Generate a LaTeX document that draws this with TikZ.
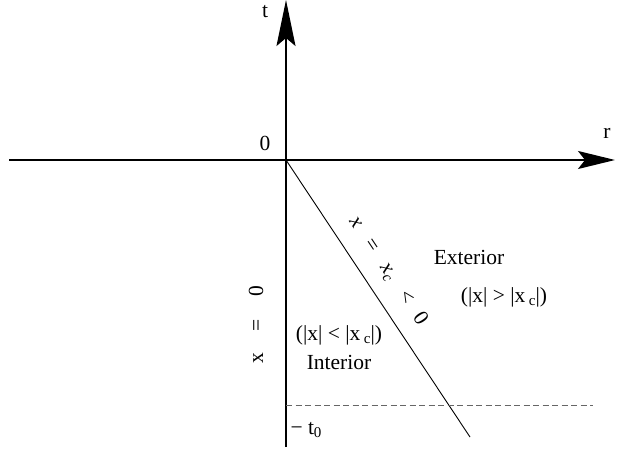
\documentclass[tikz,border=0pt]{standalone}
\usepackage{fontspec}
\setmainfont{Liberation Serif}
\usetikzlibrary{arrows.meta}
\newcommand{\lowsub}[1]{\raisebox{-0.35ex}{\fontsize{15}{15}\selectfont #1}}

\begin{document}
\begin{tikzpicture}[x=1pt, y=1pt,
  lbl/.style={inner sep=0pt, font=\fontsize{21.5}{24}\selectfont},
  axis/.style={line width=1.6pt},
  bound/.style={line width=0.9pt},
  tlevel/.style={dashed, dash pattern=on 6pt off 3.5pt, draw=black!60, line width=0.8pt}
]
\useasboundingbox (0,0) rectangle (618,450);

% Axes
\coordinate (O)    at (286,290);
\coordinate (tbot) at (286,3);
\coordinate (ttop) at (286,450);
\coordinate (rleft) at (9,290);
\coordinate (rtip)  at (615,290);
\draw[axis, -{Stealth[length=46pt, width=19pt, inset=8pt]}] (tbot) -- (ttop);
\draw[axis, -{Stealth[length=37pt, width=18pt, inset=7pt]}] (rleft) -- (rtip);

\node[lbl] (t)    at (265,438) {t};
\node[lbl] (r)    at (607,317) {r};
\node[lbl] (zero) at (265,307) {0};

% Boundary x = x_c
\coordinate (cend) at (470,13);
\draw[bound] (O) -- (cend);
\node[lbl, rotate=-56.4] (xc) at (388,179)
  {\itshape x\hspace{17pt}\upshape =\hspace{17pt}\itshape x\lowsub{c}\hspace{17pt}\upshape <\hspace{14pt}0};

% Surface x = 0
\node[lbl, rotate=90] (xzero) at (256,125) {x\hspace{22pt}=\hspace{22pt}0};

% Regions
\node[lbl] (ext)  at (469,193) {Exterior};
\node[lbl] (extc) at (504,153) {(|x| > |x\,\lowsub{c}|)};
\node[lbl] (intc) at (339,115) {(|x| < |x\,\lowsub{c}|)};
\node[lbl] (int)  at (339,88)  {Interior};

% Initial time
\coordinate (t0a) at (286,45);
\coordinate (t0b) at (593,45);
\draw[tlevel] (t0a) -- (t0b);
\node[lbl] (t0) at (306,20) {− t\lowsub{0}};
\end{tikzpicture}
\end{document}
